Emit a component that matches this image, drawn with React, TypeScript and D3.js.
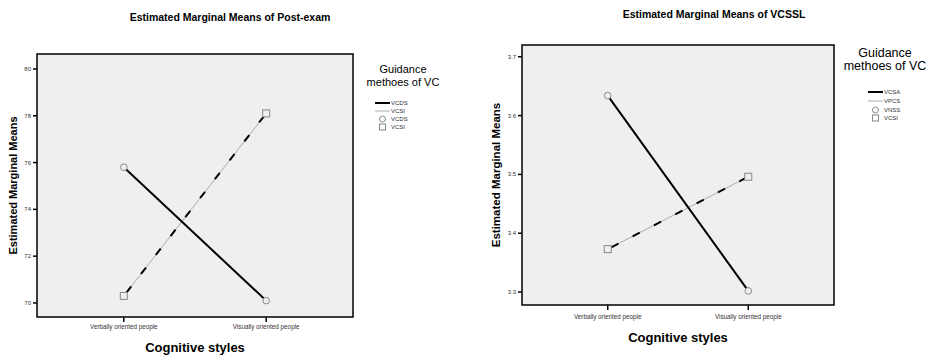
import React from "react";
import * as d3 from "d3";

const categories = ["Verbally oriented people", "Visually oriented people"];
const postExamVCDS = [75.8, 70.1];
const postExamVCSI = [70.3, 78.1];
const postExamTicks = [70, 72, 74, 76, 78, 80];
const vcsslVCSA = [3.634, 3.302];
const vcsslVPCS = [3.373, 3.496];
const vcsslTicks = [3.3, 3.4, 3.5, 3.6, 3.7];
const leftLegend = ["VCDS", "VCSI", "VCDS", "VCSI"];
const rightLegend = ["VCSA", "VPCS", "VNSS", "VCSI"];

const FONT = "'Liberation Sans', Arial, sans-serif";

type PanelProps = {
  title: string;
  titleX: number;
  titleY: number;
  titleSize: number;
  x0: number; x1: number; y0: number; y1: number;
  domain: [number, number];
  ticks: number[];
  tickFmt: (v: number) => string;
  solid: number[];
  dashed: number[];
  yTitleX: number;
  yTitleSize: number;
  catY: number;
  xTitleY: number;
  legend: string[];
  legCx: number;
  legY1: number;
  legY2: number;
  legSize: number;
  legLineX: number;
  legEntryY: number[];
};

function Panel(p: PanelProps) {
  const x = d3.scalePoint<string>().domain(categories).range([p.x0, p.x1]).padding(0.61);
  const y = d3.scaleLinear().domain(p.domain).range([p.y1, p.y0]);
  const line = d3.line<number>().x((_, i) => x(categories[i])!).y((d) => y(d));
  const cx = (p.x0 + p.x1) / 2;
  const cy = (p.y0 + p.y1) / 2;
  const lx = p.legLineX;
  return (
    <g fontFamily={FONT}>
      <text x={p.titleX} y={p.titleY} textAnchor="middle" fontSize={p.titleSize} fontWeight="bold">{p.title}</text>
      <rect x={p.x0} y={p.y0} width={p.x1 - p.x0} height={p.y1 - p.y0} fill="#efefef" stroke="#000" strokeWidth={1.5} />
      {p.ticks.map((t) => (
        <g key={t}>
          <line x1={p.x0 - 4} x2={p.x0} y1={y(t)} y2={y(t)} stroke="#000" strokeWidth={1.5} />
          <text x={p.x0 - 6} y={y(t) + 2} textAnchor="end" fontSize={6} fill="#333">{p.tickFmt(t)}</text>
        </g>
      ))}
      {categories.map((c) => (
        <g key={c}>
          <line x1={x(c)!} x2={x(c)!} y1={p.y1} y2={p.y1 + 5} stroke="#000" strokeWidth={1.5} />
          <text x={x(c)!} y={p.catY} textAnchor="middle" fontSize={6.3} fill="#333">{c}</text>
        </g>
      ))}
      <text transform={`translate(${p.yTitleX},${cy}) rotate(-90)`} textAnchor="middle" fontSize={p.yTitleSize} fontWeight="bold">Estimated Marginal Means</text>
      <text x={cx} y={p.xTitleY} textAnchor="middle" fontSize={13} fontWeight="bold">Cognitive styles</text>
      <path d={line(p.dashed)!} fill="none" stroke="#aaa" strokeWidth={1} />
      <path d={line(p.dashed)!} fill="none" stroke="#000" strokeWidth={2} strokeDasharray="8 16" strokeDashoffset={-4} />
      <path d={line(p.solid)!} fill="none" stroke="#000" strokeWidth={2} />
      {p.solid.map((v, i) => (
        <circle key={"c" + i} cx={x(categories[i])!} cy={y(v)} r={3.3} fill="#efefef" stroke="#888" strokeWidth={1} />
      ))}
      {p.dashed.map((v, i) => (
        <rect key={"s" + i} x={x(categories[i])! - 3.5} y={y(v) - 3.5} width={7} height={7} fill="#efefef" stroke="#888" strokeWidth={1} />
      ))}
      <text x={p.legCx} y={p.legY1} textAnchor="middle" fontSize={p.legSize}>Guidance</text>
      <text x={p.legCx} y={p.legY2} textAnchor="middle" fontSize={p.legSize}>methoes of VC</text>
      <line x1={lx} x2={lx + 15} y1={p.legEntryY[0]} y2={p.legEntryY[0]} stroke="#000" strokeWidth={2} />
      <line x1={lx} x2={lx + 15} y1={p.legEntryY[1]} y2={p.legEntryY[1]} stroke="#aaa" strokeWidth={1} />
      <circle cx={lx + 7.5} cy={p.legEntryY[2]} r={3} fill="#fff" stroke="#888" />
      <rect x={lx + 4.5} y={p.legEntryY[3] - 3} width={6} height={6} fill="#fff" stroke="#888" />
      {p.legend.map((t, i) => (
        <text key={i} x={lx + 16} y={p.legEntryY[i] + 2.2} fontSize={6} fill="#333">{t}</text>
      ))}
    </g>
  );
}

export default function App() {
  return (
    <svg width={943} height={360} style={{ position: "absolute", left: 0, top: 0, background: "#fff" }}>
      <Panel
        title="Estimated Marginal Means of Post-exam"
        titleX={230} titleY={21} titleSize={10.5}
        x0={37} x1={353} y0={54} y1={317}
        domain={[69.4, 80.64]}
        ticks={postExamTicks}
        tickFmt={(v) => String(v)}
        solid={postExamVCDS}
        dashed={postExamVCSI}
        yTitleX={17}
        yTitleSize={11}
        catY={329}
        xTitleY={352}
        legend={leftLegend}
        legCx={403} legY1={73} legY2={86} legSize={11}
        legLineX={375}
        legEntryY={[103, 111, 119, 127]}
      />
      <Panel
        title="Estimated Marginal Means of VCSSL"
        titleX={714} titleY={18} titleSize={10.5}
        x0={522} x1={834} y0={45} y1={305}
        domain={[3.278, 3.72]}
        ticks={vcsslTicks}
        tickFmt={(v) => v.toFixed(1)}
        solid={vcsslVCSA}
        dashed={vcsslVPCS}
        yTitleX={500}
        yTitleSize={11.5}
        catY={319}
        xTitleY={342}
        legend={rightLegend}
        legCx={885} legY1={57} legY2={70} legSize={12.5}
        legLineX={868}
        legEntryY={[92, 101, 110, 118]}
      />
    </svg>
  );
}
